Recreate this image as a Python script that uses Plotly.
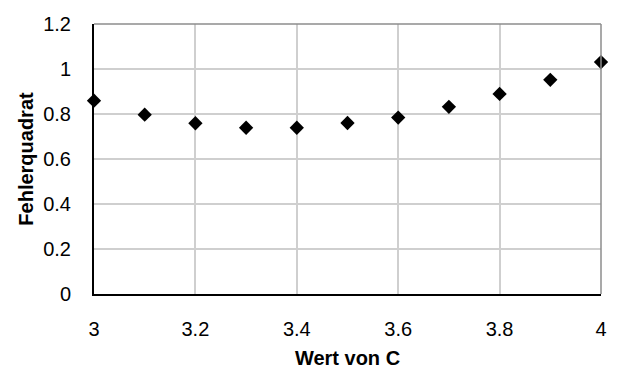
import plotly.graph_objects as go

# Wert von C and the resulting squared error
c_values = [3.0, 3.1, 3.2, 3.3, 3.4, 3.5, 3.6, 3.7, 3.8, 3.9, 4.0]
fehlerquadrat = [0.859, 0.797, 0.759, 0.739, 0.739, 0.760, 0.784, 0.832, 0.889, 0.952, 1.031]

x_ticks = [3.0, 3.2, 3.4, 3.6, 3.8, 4.0]
x_tick_text = ["3", "3.2", "3.4", "3.6", "3.8", "4"]
y_ticks = [0, 0.2, 0.4, 0.6, 0.8, 1.0, 1.2]
y_tick_text = ["0", "0.2", "0.4", "0.6", "0.8", "1", "1.2"]

font_family = "Liberation Sans, Arial, sans-serif"

fig = go.Figure(
    go.Scatter(
        x=c_values,
        y=fehlerquadrat,
        mode="markers",
        marker=dict(symbol="diamond", size=11, color="black", line=dict(width=0)),
        cliponaxis=False,
    )
)

fig.update_layout(
    width=617,
    height=369,
    margin=dict(l=94, r=16, t=24, b=75),
    paper_bgcolor="white",
    plot_bgcolor="white",
    showlegend=False,
    font=dict(family=font_family, size=20, color="black"),
    shapes=[
        # light frame on the top and right edges of the plot area
        dict(type="line", xref="paper", yref="paper", x0=0, x1=1, y0=1, y1=1,
             line=dict(color="#8c8c8c", width=1.5)),
        dict(type="line", xref="paper", yref="paper", x0=1, x1=1, y0=0, y1=1,
             line=dict(color="#8c8c8c", width=1.5)),
    ],
)

fig.update_xaxes(
    range=[3.0, 4.0],
    tickvals=x_ticks,
    ticktext=x_tick_text,
    tickfont=dict(size=20),
    automargin=False,
    showgrid=True,
    gridcolor="#cfcfcf",
    gridwidth=1.5,
    showline=True,
    linecolor="black",
    linewidth=2,
    ticks="",
    ticklabelstandoff=16,
    zeroline=False,
    title=dict(text="<b>Wert von C</b>", font=dict(size=20), standoff=20),
)

fig.update_yaxes(
    range=[0, 1.2],
    tickvals=y_ticks,
    ticktext=y_tick_text,
    tickfont=dict(size=20),
    automargin=False,
    showgrid=True,
    gridcolor="#cfcfcf",
    gridwidth=1.5,
    showline=True,
    linecolor="black",
    linewidth=2,
    ticks="",
    ticklabelstandoff=17,
    zeroline=False,
    title=dict(text="<b>Fehlerquadrat</b>", font=dict(size=20), standoff=4),
)

fig.write_html("out.html")
